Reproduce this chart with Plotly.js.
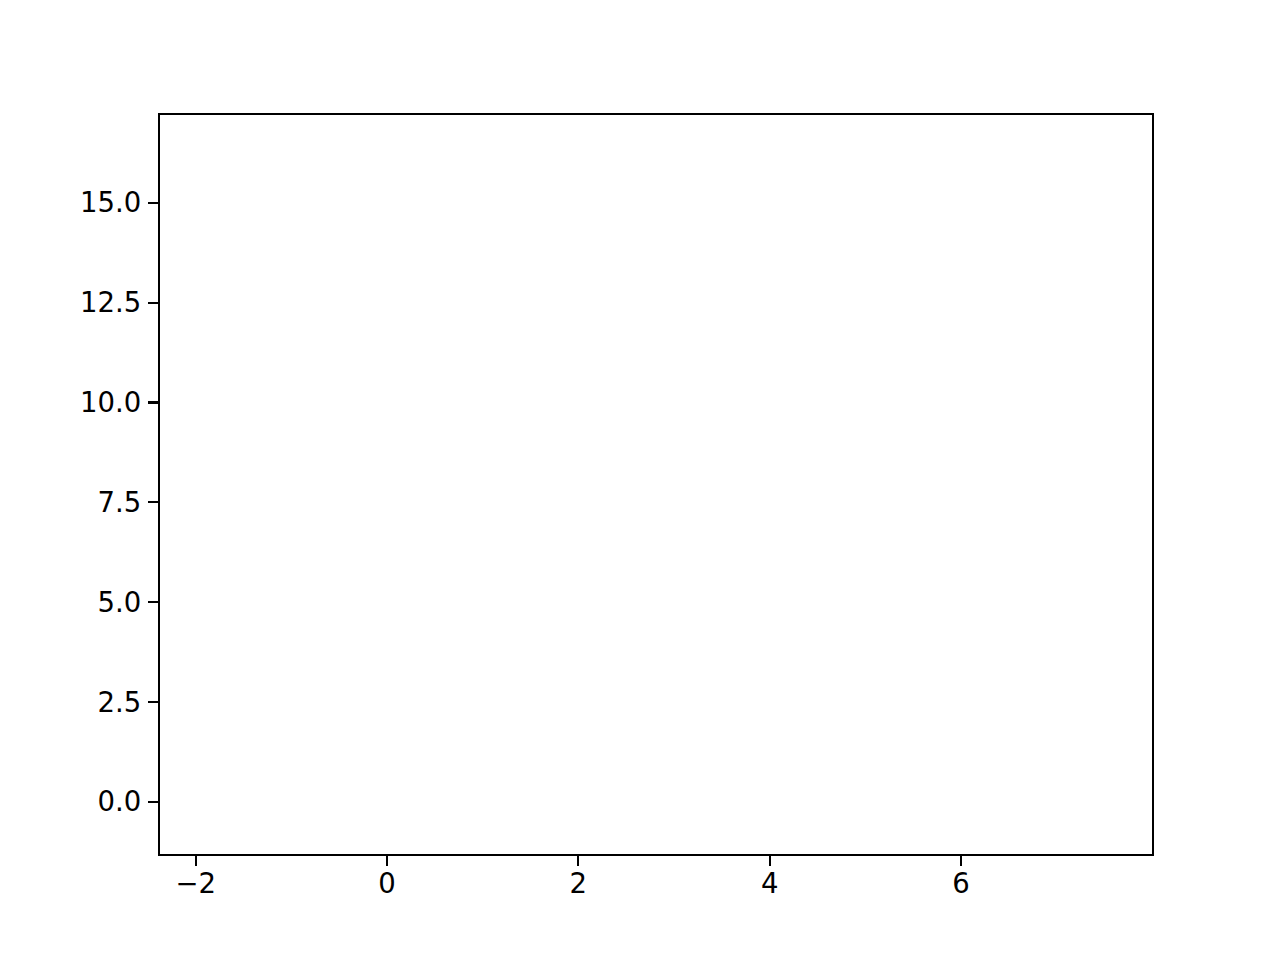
<!DOCTYPE html>
<html>
<head>
<meta charset="utf-8">
<script src="https://cdn.plot.ly/plotly-3.0.1.min.js"></script>
<style>html,body{margin:0;padding:0;background:#fff;}#chart{width:1280px;height:960px;}</style>
</head>
<body>
<div id="chart"></div>
<script>
// Series (the reference axes contain no plotted data)
const seriesX = [];
const seriesY = [];
// Tick labels
const xTickVals = [-2, 0, 2, 4, 6];
const xTickText = ['\u22122', '0', '2', '4', '6'];
const yTickVals = [0, 2.5, 5, 7.5, 10, 12.5, 15];
const yTickText = ['0.0', '2.5', '5.0', '7.5', '10.0', '12.5', '15.0'];
const xRange = [-2.373, 7.996];
const yRange = [-1.31, 17.2];

const axisCommon = {
  showline: true, linecolor: '#000', linewidth: 2.2, mirror: true,
  ticks: 'outside', ticklen: 10, tickwidth: 2.2, tickcolor: '#000',
  showgrid: false, zeroline: false, tickmode: 'array',
  tickfont: {family: 'DejaVu Sans', size: 27.5, color: '#000'}
};

const data = [{x: seriesX, y: seriesY, type: 'scatter', mode: 'lines', showlegend: false}];
const layout = {
  width: 1280, height: 960,
  margin: {l: 160, r: 128, t: 115, b: 106, pad: 0},
  paper_bgcolor: '#fff', plot_bgcolor: '#fff',
  xaxis: Object.assign({}, axisCommon, {range: xRange, tickvals: xTickVals, ticktext: xTickText, ticklabelstandoff: -6}),
  yaxis: Object.assign({}, axisCommon, {range: yRange, tickvals: yTickVals, ticktext: yTickText, ticklabelstandoff: 1}),
  showlegend: false
};
Plotly.newPlot('chart', data, layout, {staticPlot: true});
</script>
</body>
</html>
